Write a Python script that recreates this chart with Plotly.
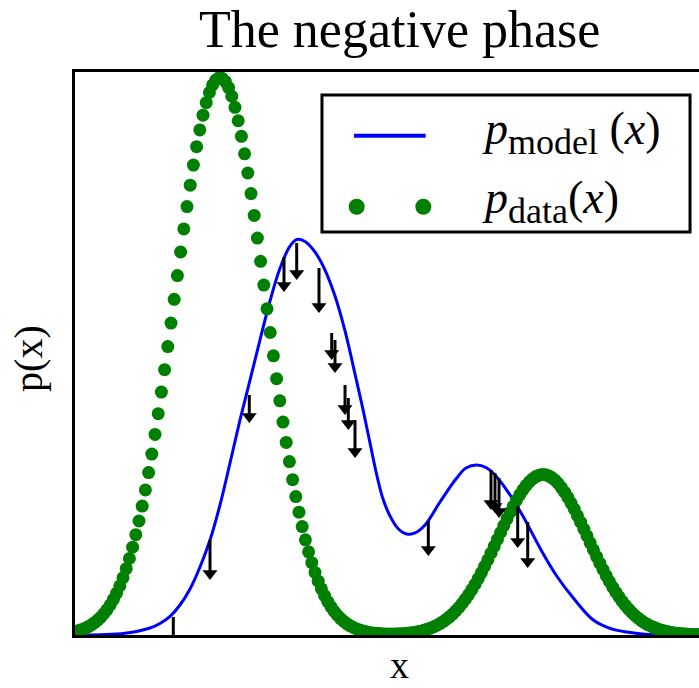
import numpy as np
import plotly.graph_objects as go

# ---- data ----
# p_data(x): evenly spaced samples (sample index along x)
data_p = [
    0.0061, 0.0076, 0.0095, 0.0117, 0.0144, 0.0177, 0.0215, 0.0261, 0.0314, 0.0377,
    0.0451, 0.0535, 0.0633, 0.0745, 0.0872, 0.1017, 0.1178, 0.1359, 0.1560, 0.1782,
    0.2025, 0.2290, 0.2577, 0.2885, 0.3214, 0.3563, 0.3931, 0.4315, 0.4713, 0.5123,
    0.5540, 0.5962, 0.6384, 0.6803, 0.7213, 0.7609, 0.7989, 0.8346, 0.8674, 0.8972,
    0.9234, 0.9456, 0.9636, 0.9771, 0.9858, 0.9898, 0.9888, 0.9830, 0.9723, 0.9569,
    0.9372, 0.9134, 0.8858, 0.8547, 0.8206, 0.7840, 0.7453, 0.7051, 0.6637, 0.6216,
    0.5794, 0.5373, 0.4958, 0.4553, 0.4160, 0.3782, 0.3421, 0.3080, 0.2759, 0.2459,
    0.2181, 0.1925, 0.1690, 0.1477, 0.1284, 0.1111, 0.0956, 0.0820, 0.0698, 0.0592,
    0.0500, 0.0420, 0.0351, 0.0292, 0.0242, 0.0199, 0.0163, 0.0133, 0.0108, 0.0087,
    0.0070, 0.0056, 0.0045, 0.0037, 0.0031, 0.0026, 0.0022, 0.0019, 0.0018, 0.0018,
    0.0018, 0.0020, 0.0022, 0.0026, 0.0032, 0.0038, 0.0046, 0.0056, 0.0068, 0.0083,
    0.0100, 0.0120, 0.0143, 0.0170, 0.0201, 0.0236, 0.0276, 0.0322, 0.0372, 0.0429,
    0.0491, 0.0561, 0.0636, 0.0718, 0.0806, 0.0901, 0.1001, 0.1108, 0.1219, 0.1334,
    0.1453, 0.1575, 0.1698, 0.1821, 0.1943, 0.2064, 0.2180, 0.2291, 0.2396, 0.2492,
    0.2580, 0.2656, 0.2722, 0.2774, 0.2814, 0.2839, 0.2850, 0.2846, 0.2828, 0.2796,
    0.2750, 0.2691, 0.2619, 0.2537, 0.2445, 0.2344, 0.2236, 0.2122, 0.2004, 0.1883,
    0.1760, 0.1636, 0.1514, 0.1393, 0.1276, 0.1163, 0.1054, 0.0950, 0.0852, 0.0761,
    0.0676, 0.0597, 0.0525, 0.0459, 0.0400, 0.0346, 0.0298, 0.0255, 0.0218, 0.0185,
    0.0156, 0.0131, 0.0109, 0.0091, 0.0075, 0.0062, 0.0051, 0.0041, 0.0033, 0.0027,
    0.0022, 0.0017, 0.0014, 0.0011, 0.0009, 0.0007, 0.0005, 0.0004,
]
data_x = list(range(len(data_p)))

# p_model(x): points
model_x = [0.0, 7.81, 15.63, 23.44, 26.56, 29.69, 32.81, 35.94, 39.06, 42.19,
           45.31, 48.44, 51.56, 54.69, 57.81, 60.94, 64.06, 67.19, 69.38, 71.88,
           75.00, 78.13, 81.25, 84.38, 87.50, 90.00, 92.19, 94.38, 96.25, 98.44,
           100.94, 103.66, 106.25, 109.38, 114.06, 119.28, 122.19, 125.53, 128.44, 130.72,
           134.91, 140.09, 145.31, 150.53, 155.72, 161.97, 167.19, 172.41, 178.13, 185.94,
           195.0]
model_p = [0.0, 0.0005, 0.0030, 0.0124, 0.0204, 0.0330, 0.0533, 0.0817, 0.1208, 0.1687,
           0.2309, 0.3055, 0.3819, 0.4529, 0.5240, 0.5933, 0.6513, 0.6909, 0.7025, 0.6989,
           0.6803, 0.6483, 0.6021, 0.5400, 0.4636, 0.4005, 0.3410, 0.2824, 0.2416, 0.2114,
           0.1892, 0.1794, 0.1812, 0.1954, 0.2362, 0.2789, 0.2966, 0.3020, 0.2975, 0.2872,
           0.2575, 0.2101, 0.1545, 0.1048, 0.0657, 0.0266, 0.0119, 0.0053, 0.0014, 0.0002,
           0.0]

# samples drawn from the model (negative-phase arrows): position, tail, arrow tip
sample_x = [30.72, 42.19, 54.47, 65.31, 69.28, 76.25, 80.22, 81.25, 84.38, 85.41,
            87.50, 110.41, 130.00, 131.25, 132.50, 138.34, 141.47]
tail_p = [0.0320, 0.1687, 0.4263, 0.6714, 0.6963, 0.6519, 0.5364, 0.5240, 0.4440, 0.4210,
          0.3819, 0.2025, 0.2931, 0.2877, 0.2789, 0.2291, 0.2007]
tip_p = [-0.0355, 0.0977, 0.3766, 0.6092, 0.6306, 0.5719, 0.4885, 0.4654, 0.3908, 0.3641,
         0.3144, 0.1403, 0.2220, 0.2167, 0.2078, 0.1545, 0.1190]

title_text = "The negative phase"
xlabel = "x"
ylabel = "p(x)"
leg_model = "<i>p</i><sub><span style='font-size:36px'>model</span></sub> (<i>x</i>)"
leg_data = "<i>p</i><sub><span style='font-size:36px'>data</span></sub>(<i>x</i>)"

# ---- figure ----
fig = go.Figure()

fig.add_trace(go.Scatter(x=model_x, y=model_p, mode="lines", line_shape="spline",
                         line=dict(color="#0000ff", width=3), showlegend=False,
                         hoverinfo="skip"))

fig.add_trace(go.Scatter(x=data_x, y=data_p, mode="markers",
                         marker=dict(color="#008000", size=13, line=dict(width=0)),
                         showlegend=False, hoverinfo="skip"))

head_off = 6.5 / 563.0  # marker centre sits above the tip
head_c = np.array(tip_p) + head_off
sx, sy = [], []
for xv, a, b in zip(sample_x, tail_p, head_c):
    sx += [xv, xv, None]
    sy += [a, b, None]
fig.add_trace(go.Scatter(x=sx, y=sy, mode="lines", line=dict(color="black", width=3),
                         showlegend=False, hoverinfo="skip"))
fig.add_trace(go.Scatter(x=sample_x, y=head_c, mode="markers",
                         marker=dict(symbol="triangle-down", color="black", size=13,
                                     line=dict(width=0)),
                         showlegend=False, hoverinfo="skip"))

serif = "Liberation Serif"
ann = [
    dict(text=title_text, x=0.5208, y=1.0755, xref="paper", yref="paper",
         xanchor="center", yanchor="middle", showarrow=False,
         font=dict(family=serif, size=52, color="black")),
    dict(text=xlabel, x=0.5208, y=-0.0941, xref="paper", yref="paper",
         xanchor="center", yanchor="bottom", showarrow=False,
         font=dict(family=serif, size=38, color="black")),
    dict(text=ylabel, x=-0.0755, y=0.492, xref="paper", yref="paper", textangle=-90,
         xanchor="center", yanchor="middle", showarrow=False,
         font=dict(family=serif, size=40, color="black")),
    dict(text=leg_model, x=0.649, y=0.8917, xref="paper", yref="paper",
         xanchor="left", yanchor="middle", showarrow=False,
         font=dict(family=serif, size=46, color="black")),
    dict(text=leg_data, x=0.649, y=0.770, xref="paper", yref="paper",
         xanchor="left", yanchor="middle", showarrow=False,
         font=dict(family=serif, size=46, color="black")),
]

shapes = [
    dict(type="rect", xref="paper", yref="paper", x0=0.3958, x1=0.9856, y0=0.7158, y1=0.9591,
         line=dict(color="black", width=3), fillcolor="white", layer="above"),
    dict(type="line", xref="paper", yref="paper", x0=0.4471, x1=0.5620, y0=0.8869, y1=0.8869,
         line=dict(color="#0000ff", width=4), layer="above"),
]
for cx in (0.4514, 0.5582):
    shapes.append(dict(type="circle", xref="paper", yref="paper", xsizemode="pixel",
                       ysizemode="pixel", xanchor=cx, yanchor=0.7607, x0=-8, x1=8, y0=-8, y1=8,
                       fillcolor="#008000", line=dict(width=0), layer="above"))

fig.update_layout(
    width=699, height=688,
    margin=dict(l=75, r=0, t=72, b=53),
    paper_bgcolor="white", plot_bgcolor="white",
    annotations=ann, shapes=shapes, showlegend=False,
)
fig.update_xaxes(range=[0, 195], showline=True, mirror=True, linecolor="black", linewidth=3,
                 showticklabels=False, ticks="", showgrid=False, zeroline=False)
fig.update_yaxes(range=[0, 1], showline=True, mirror=False, linecolor="black", linewidth=3,
                 showticklabels=False, ticks="", showgrid=False, zeroline=False)

fig.write_html("out.html", config={"displayModeBar": False},
               post_script="document.body.style.margin='0px';document.body.style.overflow='hidden';")
